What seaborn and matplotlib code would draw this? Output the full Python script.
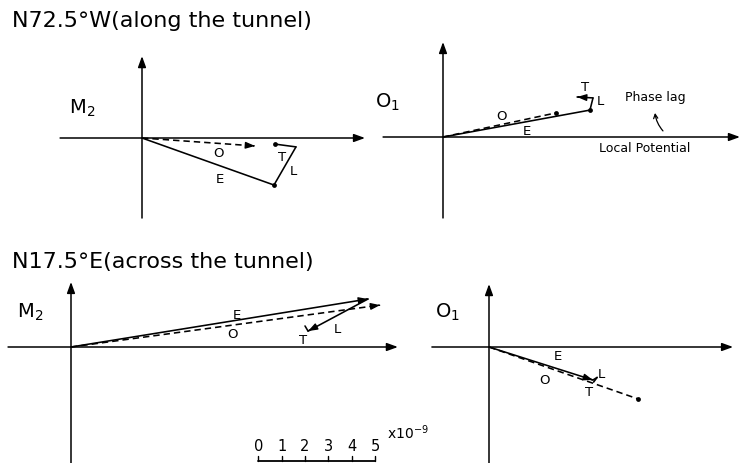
import numpy as np
import pandas as pd
import matplotlib
matplotlib.use("Agg")
import matplotlib.pyplot as plt
import seaborn as sns

# ── Data (units of 1e-9) ─────────────────────────────────────────────────────
# chain: origin -> E -> L -> T ; O drawn from origin (observed)
panel_labels = [r"M$_2$", r"O$_1$", r"M$_2$", r"O$_1$"]
E_end = [(5.64, -2.01), (6.28, 1.15), (12.69, 2.05), (4.44, -1.41)]
L_end = [(6.58, -0.38), (6.41, 1.67), (10.13, 0.68), (4.62, -1.30)]
T_end = [(5.68, -0.26), (5.73, 1.71), (10.00, 0.90), (4.47, -1.50)]
O_end = [(4.83, -0.34), (4.83, 1.03), (13.21, 1.79), (6.37, -2.22)]
scale_ticks = [0, 1, 2, 3, 4, 5]
titles = ["N72.5°W(along the tunnel)", "N17.5°E(across the tunnel)"]

# ── Layout (pixels) ──────────────────────────────────────────────────────────
W, H, S = 741, 464, 23.4            # S = pixels per 1e-9
origins = [(142, 139), (443, 138), (71, 348), (489, 348)]
extents = [(-3.50, 9.53, -3.42, 3.50), (-2.56, 12.69, -3.46, 4.06),
           (-2.69, 13.97, -4.96, 2.78), (-2.44, 10.43, -4.96, 2.69)]
name_pos = [(-2.56, 1.32), (-2.39, 1.54), (-1.75, 1.54), (-1.79, 1.54)]
E_lab = [(3.33, -1.75), (3.59, 0.26), (7.09, 1.41), (2.95, -0.38)]
O_lab = [(3.25, -0.60), (2.52, 0.94), (6.92, 0.56), (2.39, -1.37)]
L_lab = [(6.45, -1.41), (6.71, 1.54), (11.37, 0.77), (4.80, -1.12)]
T_lab = [(5.98, -0.77), (6.07, 2.14), (9.91, 0.34), (4.27, -1.90)]

# per-panel end decoration for (E, L, T, O): "dot", "arrow" or None
deco = [("dot", None, "dot", "arrow"),
        ("dot", None, "arrow", "dot"),
        ("arrow", "arrow", None, "arrow"),
        ("arrow", None, None, "dot")]

sns.set_theme(style="white")
plt.rcParams["font.family"] = ["DejaVu Sans"]
plt.rcParams["text.color"] = "black"
fig = plt.figure(figsize=(W / 100, H / 100), dpi=100)
fig.patch.set_facecolor("white")

AX_KW = dict(arrowstyle="-|>,head_length=0.55,head_width=0.2", color="black",
             lw=1.1, mutation_scale=12, shrinkA=0, shrinkB=0)
VEC_KW = dict(arrowstyle="-|>,head_length=0.5,head_width=0.18", color="black",
              lw=1.0, mutation_scale=11, shrinkA=0, shrinkB=0)


def make_ax(ox, oy, x0, x1, y0, y1, pad=0.7):
    x0p, x1p, y0p, y1p = x0 - pad, x1 + pad, y0 - pad, y1 + pad
    ax = fig.add_axes([(ox + x0p * S) / W, (H - oy + y0p * S) / H,
                       (x1p - x0p) * S / W, (y1p - y0p) * S / H])
    ax.set_xlim(x0p, x1p)
    ax.set_ylim(y0p, y1p)
    ax.axis("off")
    return ax


def head(ax, start, end):
    s, e = np.array(start), np.array(end)
    d = e - s
    d = d / (np.hypot(*d) + 1e-12)
    ax.annotate("", xy=tuple(e), xytext=tuple(e - 0.05 * d), arrowprops=VEC_KW)


def segment(ax, start, end, style, dashed=False):
    seg = pd.DataFrame({"x": [start[0], end[0]], "y": [start[1], end[1]]})
    sns.lineplot(data=seg, x="x", y="y", ax=ax, color="black", sort=False,
                 lw=1.15, linestyle=(0, (4, 2.5)) if dashed else "-")
    if style == "arrow":
        head(ax, start, end)
    elif style == "dot":
        sns.scatterplot(x=[end[0]], y=[end[1]], ax=ax, color="black", s=12,
                        edgecolor="black", linewidth=0)


axes = []
for i in range(4):
    (ox, oy), (x0, x1, y0, y1) = origins[i], extents[i]
    ax = make_ax(ox, oy, x0, x1, y0, y1)
    axes.append(ax)
    # coordinate axes
    ax.annotate("", xy=(x1, 0), xytext=(x0, 0), arrowprops=AX_KW)
    ax.annotate("", xy=(0, y1), xytext=(0, y0), arrowprops=AX_KW)
    # vectors
    dE, dL, dT, dO = deco[i]
    segment(ax, (0, 0), E_end[i], dE)
    segment(ax, E_end[i], L_end[i], dL)
    segment(ax, L_end[i], T_end[i], dT)
    segment(ax, (0, 0), O_end[i], dO, dashed=True)
    # labels
    ax.text(*name_pos[i], panel_labels[i], fontsize=14, ha="center", va="center")
    for pos, lab in zip([E_lab[i], O_lab[i], L_lab[i], T_lab[i]], "EOLT"):
        ax.text(*pos, lab, fontsize=9.5, ha="center", va="center")

# annotations on the O1 (along) panel
axB = axes[1]
axB.text(7.78, 1.71, "Phase lag", fontsize=9, ha="left", va="center")
axB.text(6.67, -0.43, "Local Potential", fontsize=9, ha="left", va="center")
axB.annotate("", xy=(9.06, 1.03), xytext=(9.40, 0.26),
             arrowprops=dict(arrowstyle="->,head_length=0.3,head_width=0.15",
                             color="black", lw=0.9, mutation_scale=10,
                             connectionstyle="arc3,rad=-0.15",
                             shrinkA=0, shrinkB=0))

# scale bar in the M2 (across) panel
axC = axes[2]
bx = 8.0
by = -4.87
sb = pd.DataFrame({"x": [bx + scale_ticks[0], bx + scale_ticks[-1]], "y": [by, by]})
sns.lineplot(data=sb, x="x", y="y", ax=axC, color="black", lw=1.3)
for t in scale_ticks:
    axC.plot([bx + t, bx + t], [by, by + 0.22], color="black", lw=1.0)
    axC.text(bx + t, -4.23, str(t), fontsize=10.5, ha="center", va="center")
axC.text(bx + 5.5, -3.62, r"x10$^{-9}$", fontsize=10, ha="left", va="center")

# section titles
fig.text(12 / W, 1 - 21 / H, titles[0], fontsize=16, ha="left", va="center")
fig.text(12 / W, 1 - 262 / H, titles[1], fontsize=16, ha="left", va="center")

fig.savefig("out.png", dpi=100, facecolor="white")
